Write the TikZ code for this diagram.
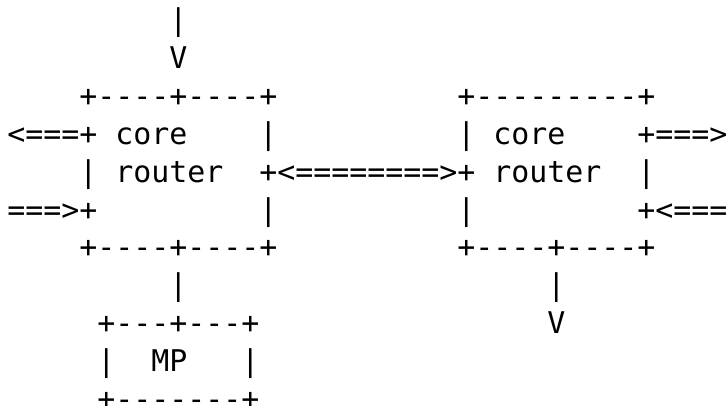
\documentclass[tikz,border=0pt]{standalone}
\usepackage{fontspec}
\setmonofont{DejaVu Sans Mono}[Ligatures={NoRequired,NoCommon,NoContextual}]
\tikzset{txt/.style={anchor=base west,inner sep=0pt,outer sep=0pt,font=\ttfamily\fontsize{29.9}{36}\selectfont,text=black}}
\newcommand\chunk[4]{\node[txt] (#1) at ({7.3pt+#3*18pt},{405pt-31pt-#2*37.8pt}) {#4};}
\begin{document}
\begin{tikzpicture}[x=1pt,y=1pt]
\useasboundingbox (0,0) rectangle (727,405);
% row 0-1: incoming arrow
\chunk{inbar}{0}{9}{|}
\chunk{inV}{1}{9}{V}
% row 2: tops of boxes
\chunk{ltop}{2}{4}{+----+----+}
\chunk{rtop}{2}{25}{+---------+}
% row 3
\chunk{lout}{3}{0}{<===+}
\chunk{lcore}{3}{6}{core}
\chunk{lr3}{3}{14}{|}
\chunk{rl3}{3}{25}{|}
\chunk{rcore}{3}{27}{core}
\chunk{rout}{3}{35}{+===>}
% row 4
\chunk{ll4}{4}{4}{|}
\chunk{lrouter}{4}{6}{router}
\chunk{link}{4}{14}{+<========>+}
\chunk{rrouter}{4}{27}{router}
\chunk{rr4}{4}{35}{|}
% row 5
\chunk{lin}{5}{0}{===>+}
\chunk{lr5}{5}{14}{|}
\chunk{rl5}{5}{25}{|}
\chunk{rin}{5}{35}{+<===}
% row 6: bottoms of boxes
\chunk{lbot}{6}{4}{+----+----+}
\chunk{rbot}{6}{25}{+----+----+}
% row 7-8
\chunk{mpbar}{7}{9}{|}
\chunk{outbar}{7}{30}{|}
\chunk{mptop}{8}{5}{+---+---+}
\chunk{outV}{8}{30}{V}
% row 9-10: MP box
\chunk{mpl}{9}{5}{|}
\chunk{mp}{9}{8}{MP}
\chunk{mpr}{9}{13}{|}
\chunk{mpbot}{10}{5}{+-------+}
\end{tikzpicture}
\end{document}
